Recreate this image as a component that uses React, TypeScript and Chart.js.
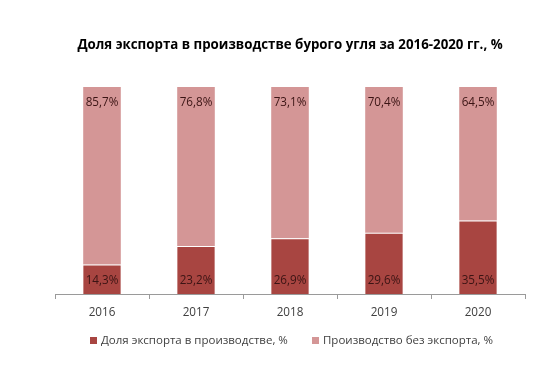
import React, { useEffect, useRef } from "react";
import { Chart, registerables } from "chart.js";

Chart.register(...registerables);

const years = ["2016", "2017", "2018", "2019", "2020"];
const exportShare = [14.3, 23.2, 26.9, 29.6, 35.5];
const noExport = [85.7, 76.8, 73.1, 70.4, 64.5];
const seriesNames = ["Доля экспорта в производстве, %", "Производство без экспорта, %"];
const titleText = "Доля экспорта в производстве бурого угля за 2016-2020 гг., %";

const DARK = "#A84541";
const LIGHT = "#D49696";
const FONT = "'Open Sans', sans-serif";

const fmt = (v: number) => v.toFixed(1).replace(".", ",") + "%";

const overlay = {
  id: "overlay",
  afterDraw(chart: any) {
    const ctx = chart.ctx;
    ctx.save();
    // title
    ctx.fillStyle = "#000";
    ctx.font = `bold 13.3px ${FONT}`;
    ctx.textAlign = "center";
    ctx.textBaseline = "middle";
    ctx.fillText(titleText, 290, 45);
    // data labels
    ctx.font = `11.7px ${FONT}`;
    ctx.fillStyle = "#3b1414";
    const m0 = chart.getDatasetMeta(0);
    const m1 = chart.getDatasetMeta(1);
    m0.data.forEach((el: any, i: number) => {
      ctx.fillText(fmt(exportShare[i]), el.x, el.base - 13);
    });
    m1.data.forEach((el: any, i: number) => {
      ctx.fillText(fmt(noExport[i]), el.x, el.y + 16);
    });
    // legend
    ctx.font = `11.5px ${FONT}`;
    ctx.textAlign = "left";
    const items = [
      { x: 90, color: DARK, label: seriesNames[0] },
      { x: 312, color: LIGHT, label: seriesNames[1] },
    ];
    items.forEach((it) => {
      ctx.fillStyle = it.color;
      ctx.fillRect(it.x, 337, 7, 7);
      ctx.fillStyle = "#404040";
      ctx.fillText(it.label, it.x + 11, 341);
    });
    ctx.restore();
  },
};

export default function App() {
  const ref = useRef<HTMLCanvasElement>(null);
  useEffect(() => {
    if (!ref.current) return;
    const chart = new Chart(ref.current, {
      type: "bar",
      data: {
        labels: years,
        datasets: [
          {
            label: seriesNames[0],
            data: exportShare,
            backgroundColor: DARK,
            borderColor: "#ffffff",
            borderWidth: { top: 1, left: 0, right: 0, bottom: 0 },
            borderSkipped: false,
            barPercentage: 0.4,
            categoryPercentage: 1,
          },
          {
            label: seriesNames[1],
            data: noExport,
            backgroundColor: LIGHT,
            borderWidth: 0,
            barPercentage: 0.4,
            categoryPercentage: 1,
          },
        ],
      },
      options: {
        responsive: false,
        animation: false,
        layout: { padding: { left: 55, right: 29, top: 87, bottom: 0 } },
        plugins: {
          legend: { display: false },
          title: { display: false },
          tooltip: { enabled: false },
        },
        scales: {
          x: {
            stacked: true,
            afterFit(scale: any) {
              scale.height = 386 - 294;
            },
            grid: {
              offset: true,
              drawOnChartArea: false,
              drawTicks: true,
              tickLength: 5,
              color: "#9a9a9a",
            },
            border: { display: true, color: "#9a9a9a", width: 1 },
            ticks: {
              color: "#404040",
              font: { family: FONT, size: 11.7 },
              padding: 7,
            },
          },
          y: {
            stacked: true,
            display: false,
            min: 0,
            max: 100,
          },
        },
      },
      plugins: [overlay],
    });
    return () => chart.destroy();
  }, []);
  return (
    <div style={{ position: "fixed", left: 0, top: 0, width: 554, height: 386, background: "#fff" }}>
      <canvas ref={ref} width={554} height={386} />
    </div>
  );
}
